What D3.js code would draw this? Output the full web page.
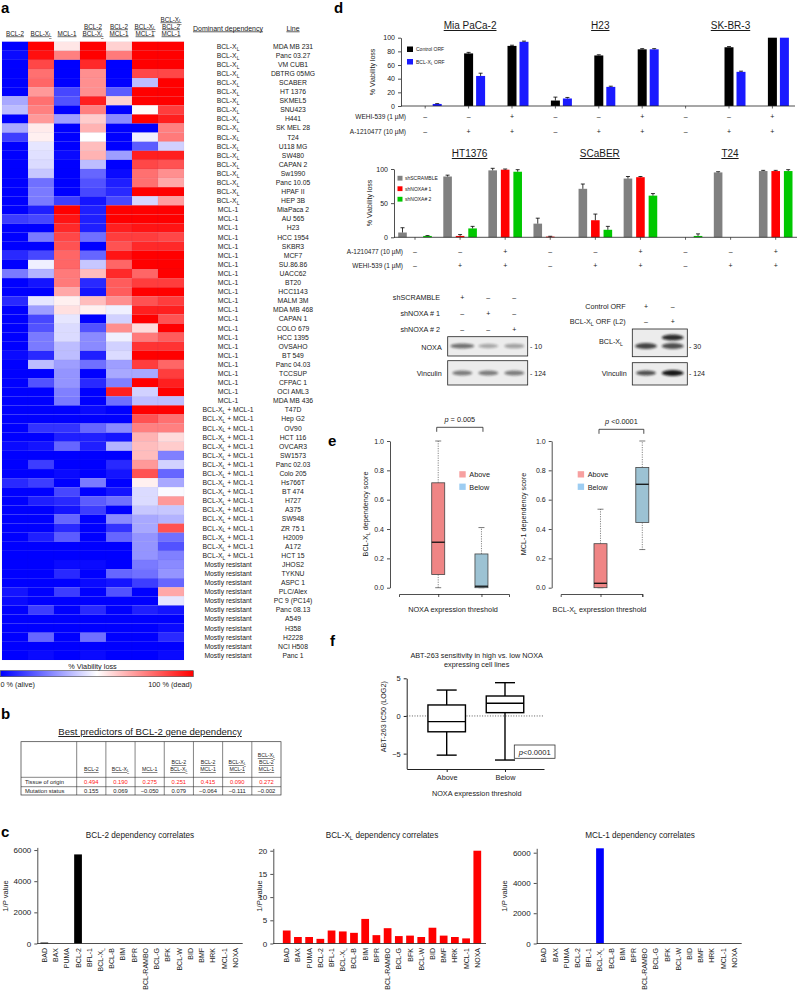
<!DOCTYPE html>
<html><head><meta charset="utf-8">
<script src="https://cdn.jsdelivr.net/npm/d3@7"></script>
<style>
html,body{margin:0;padding:0;background:#fff;}
svg{display:block;font-family:"Liberation Sans",Arial,Helvetica,sans-serif;}
</style></head><body>
<script>
// ================= DATA =================
// Panel a – heatmap
const hmColumns = [["BCL-2"],["BCL-X{L}"],["MCL-1"],["BCL-2","BCL-X{L}"],["BCL-2","MCL-1"],["BCL-X{L}","MCL-1"],["BCL-X{L}","BCL-2","MCL-1"]];
const hmLines = ["MDA MB 231","Panc 03.27","VM CUB1","DBTRG 05MG","SCABER","HT 1376","SKMEL5","SNU423","H441","SK MEL 28","T24","U118 MG","SW480","CAPAN 2","Sw1990","Panc 10.05","HPAF II","HEP 3B",
 "MiaPaca 2","AU 565","H23","HCC 1954","SKBR3","MCF7","SU.86.86","UACC62","BT20","HCC1143","MALM 3M","MDA MB 468","CAPAN 1","COLO 679","HCC 1395","OVSAHO","BT 549","Panc 04.03","TCCSUP","CFPAC 1","OCI AML3","MDA MB 436",
 "T47D","Hep G2","OV90","HCT 116","OVCAR3","SW1573","Panc 02.03","Colo 205","Hs766T","BT 474","H727","A375","SW948","ZR 75 1","H2009","A172","HCT 15",
 "JHOS2","TYKNU","ASPC 1","PLC/Alex","PC 9 (PC14)","Panc 08.13","A549","H358","H2228","NCI H508","Panc 1"];
const hmDominant = [].concat(Array(18).fill("BCL-X{L}"), Array(22).fill("MCL-1"), Array(17).fill("BCL-X{L} + MCL-1"), Array(11).fill("Mostly resistant"));
const hmValues = [
 [0,100,55,100,59,100,100],[2,97,75,100,76,100,100],[0,86,0,92,0,100,100],[0,78,0,72,0,86,86],[0,80,0,72,0,37,100],
 [0,70,14,72,18,100,100],[33,78,16,94,59,100,100],[37,75,0,75,0,51,88],[0,70,31,60,27,100,94],[33,54,0,65,0,0,75],
 [12,53,0,50,0,47,76],[0,45,0,63,0,18,41],[0,44,2,65,31,94,94],[0,43,0,37,0,86,84],[0,39,0,20,2,78,72],
 [0,22,0,16,6,78,67],[0,24,0,14,8,100,100],[0,24,12,4,14,42,69],
 [0,6,100,6,100,100,100],[12,14,96,6,100,100,100],[0,0,92,6,94,96,96],[0,24,86,22,88,88,86],[0,0,84,0,84,92,92],
 [8,14,80,20,96,100,100],[0,47,80,39,80,100,100],[24,35,76,63,92,80,100],[0,4,76,8,82,88,88],[0,0,67,4,82,100,100],
 [8,45,53,63,72,84,88],[0,31,56,53,47,94,94],[0,14,45,0,41,100,84],[0,16,43,16,72,57,100],[0,24,43,27,47,76,82],
 [0,24,37,27,41,90,90],[2,8,37,6,43,100,100],[0,37,31,22,31,88,80],[0,0,29,0,33,33,88],[0,16,29,8,25,100,94],
 [0,0,25,0,94,41,100],[0,0,24,0,22,37,37],
 [0,0,0,2,0,100,100],[0,0,0,0,0,84,78],[0,10,10,20,27,75,75],[0,0,6,6,4,65,57],[2,4,20,6,35,63,60],
 [0,0,0,0,0,63,25],[0,12,0,0,8,70,41],[0,0,2,0,4,84,20],[8,12,0,24,0,53,33],[0,0,14,0,4,43,49],
 [0,6,8,18,22,43,70],[0,0,4,12,0,39,39],[0,0,20,0,27,33,35],[0,0,8,0,10,33,84],[0,6,18,0,20,29,22],
 [0,0,0,0,0,29,16],[0,0,0,0,0,29,25],
 [0,0,2,2,0,24,27],[0,0,8,0,20,22,29],[0,0,0,2,4,12,20],[4,0,12,0,16,0,67],[2,0,0,0,0,0,45],
 [0,12,0,8,0,6,4],[0,0,0,0,0,0,0],[0,0,0,0,0,0,2],[0,20,0,22,0,0,8],[0,0,0,0,0,0,0],[0,2,0,2,0,0,2]
];
// Panel b – table
const tblColumns = [["BCL-2"],["BCL-X{L}"],["MCL-1"],["BCL-2","BCL-X{L}"],["BCL-2","MCL-1"],["BCL-X{L}","MCL-1"],["BCL-X{L}","BCL-2","MCL-1"]];
const tblRows = ["Tissue of origin","Mutation status"];
const tblTissue = ["0.494","0.190","0.275","0.251","0.415","0.090","0.272"];
const tblMutation = ["0.155","0.069","\u22120.050","0.079","\u22120.064","\u22120.111","\u22120.002"];
// Panel c – correlates
const cGenes = ["BAD","BAX","PUMA","BCL-2","BFL-1","BCL-X{L}","BCL-B","BIM","BPR","BCL-RAMBO","BCL-G","BFK","BCL-W","BID","BMF","HRK","MCL-1","NOXA"];
const cBcl2 = [60,0,0,5720,0,0,0,0,0,0,0,0,0,0,0,0,0,0];
const cBclxl = [2.8,1.4,1.4,1.0,2.8,2.6,2.3,5.3,1.8,3.3,1.6,1.7,1.4,3.4,1.7,1.4,1.1,20];
const cMcl1 = [0,0,0,0,0,6290,0,0,0,0,0,0,0,0,0,0,0,0];
// Panel d – viability
const d1Titles = ["Mia PaCa-2","H23","SK-BR-3"];
const d1Control = [0,77,88,8,74,83,0,86,100];
const d1ControlErr = [0,1.5,1,5,1,1,0,1,0];
const d1Bclxl = [3,44,94,11,28,83,0,50,100];
const d1BclxlErr = [0.5,4,1,1.5,1,1,0,1,0];
const d1Wehi = ["\u2013","\u2013","+","\u2013","\u2013","+","\u2013","\u2013","+"];
const d1A121 = ["\u2013","+","+","\u2013","+","+","\u2013","+","+"];
const d2Titles = ["HT1376","SCaBER","T24"];
const d2Scramble = [7,89,98,20,71,86,0,95,97];
const d2ScrambleErr = [7,2,3,8,7,3,0,1,1];
const d2Noxa1 = [0,2,99,1,25,88,0,0,97];
const d2Noxa1Err = [0,2,1,0.5,9,1,0,0,1];
const d2Noxa2 = [2,13,96,0,11,61,2,0,97];
const d2Noxa2Err = [0.5,3,3,0,5,3,3,0,2];
const d2A121 = ["\u2013","\u2013","+","\u2013","\u2013","+","\u2013","\u2013","+"];
const d2Wehi = ["\u2013","+","+","\u2013","+","+","\u2013","+","+"];
// Panel e – boxplots  [min, q1, median, q3, max]
const eGroups = ["Above","Below"];
const eLeftAbove = [0,0.09,0.31,0.715,1.0];
const eLeftBelow = [0,0,0.01,0.23,0.41];
const eRightAbove = [0,0,0.03,0.30,0.535];
const eRightBelow = [0.26,0.445,0.705,0.82,1.0];
// Panel f
const fAbove = [-5.2,-2.1,-0.75,1.46,3.44];
const fBelow = [-5.85,0.44,1.68,2.65,4.42];

// ================= HELPERS =================
const svg = d3.select("body").append("svg").attr("width",799).attr("height",1002);
const INK = "#1a1a1a";
function rich(g, str, x, y, o={}) {
  const size = o.size||7;
  const t = g.append("text").attr("x",x).attr("y",y).attr("font-size",size)
    .attr("text-anchor", o.anchor||"start").attr("fill", o.fill||INK);
  if (o.underline) t.attr("text-decoration","underline");
  if (o.bold) t.attr("font-weight","bold");
  if (o.rotate) t.attr("transform",`rotate(${o.rotate},${x},${y})`);
  const parts = String(str).split(/(\{[^}]*\}|\[[^\]]*\])/);
  let shifted = 0;
  parts.forEach(p=>{
    if (!p) return;
    let ts;
    if (p[0]==="{") {
      ts = t.append("tspan").text(p.slice(1,-1)).attr("font-size",size*0.72).attr("dy",size*0.28);
      shifted = size*0.28; return;
    }
    if (p[0]==="[") ts = t.append("tspan").text(p.slice(1,-1)).attr("font-style","italic");
    else ts = t.append("tspan").text(p);
    if (shifted) { ts.attr("dy",-shifted); shifted = 0; }
  });
  return t;
}
function panelLabel(l,x,y){ svg.append("text").attr("x",x).attr("y",y).attr("font-size",15).attr("font-weight","bold").attr("fill","#000").text(l); }
function styleAxis(g, size){
  g.selectAll("path,line").attr("stroke","#222").attr("stroke-width",0.8);
  g.selectAll("text").attr("font-size",size).attr("fill",INK).attr("font-family",null);
  g.attr("font-family",null);
}

// ================= PANEL a =================
panelLabel("a",1,13);
const gA = svg.append("g");
const hmX = d3.scaleBand().domain(d3.range(hmColumns.length)).range([2,184]);
const hmY = d3.scaleBand().domain(hmLines).range([41.7,660]);
const hmColor = d3.scaleLinear().domain([0,50,100]).range(["#0000ff","#ffffff","#ff0000"]);
hmValues.forEach((row,i)=>{
  gA.selectAll(null).data(row).join("rect")
    .attr("x",(d,j)=>hmX(j)).attr("y",hmY(hmLines[i]))
    .attr("width",hmX.bandwidth()).attr("height",hmY.bandwidth())
    .attr("fill",d=>hmColor(d)).attr("stroke","rgba(40,40,140,0.08)").attr("stroke-width",0.4);
});
hmColumns.forEach((lines,j)=>{
  const cx = hmX(j)+hmX.bandwidth()/2;
  lines.forEach((ln,k)=> rich(gA, ln, cx, 35.5-(lines.length-1-k)*7, {size:6.3,anchor:"middle",underline:true}));
});
rich(gA,"Dominant dependency",228,30.5,{size:7,anchor:"middle",underline:true});
rich(gA,"Line",293,30.5,{size:7,anchor:"middle",underline:true});
hmLines.forEach((ln,i)=>{
  const cy = hmY(ln)+hmY.bandwidth()/2+2.4;
  rich(gA, hmDominant[i], 228, cy, {size:6.8,anchor:"middle"});
  rich(gA, ln, 293, cy, {size:6.8,anchor:"middle"});
});
// colour bar
const defs = svg.append("defs");
const grad = defs.append("linearGradient").attr("id","cbar");
[[0,"#0000ff"],[0.5,"#ffffff"],[1,"#ff0000"]].forEach(s=>grad.append("stop").attr("offset",s[0]).attr("stop-color",s[1]));
rich(gA,"% Viability loss",92.5,668.5,{size:7.3,anchor:"middle"});
gA.append("rect").attr("x",0.5).attr("y",670.7).attr("width",192.8).attr("height",6).attr("fill","url(#cbar)").attr("stroke","#444").attr("stroke-width",0.6);
rich(gA,"0 % (alive)",0.5,686.5,{size:7.3});
rich(gA,"100 % (dead)",192,686.5,{size:7.3,anchor:"end"});

// ================= PANEL b =================
panelLabel("b",1,719);
const gB = svg.append("g");
rich(gB,"Best predictors of BCL-2 gene dependency",150,735,{size:9.6,anchor:"middle",underline:true});
const tblX = d3.scaleBand().domain(d3.range(7)).range([76.7,281]);
const tblTop=741.7, tblHead=777.3, tblR1=786.7, tblBot=795;
gB.append("rect").attr("x",21).attr("y",tblTop).attr("width",260).attr("height",tblBot-tblTop).attr("fill","none").attr("stroke","#333").attr("stroke-width",0.7);
[tblHead,tblR1].forEach(y=>gB.append("line").attr("x1",21).attr("x2",281).attr("y1",y).attr("y2",y).attr("stroke","#333").attr("stroke-width",0.6));
d3.range(7).forEach(j=>gB.append("line").attr("x1",tblX(j)).attr("x2",tblX(j)).attr("y1",tblTop).attr("y2",tblBot).attr("stroke","#333").attr("stroke-width",0.6));
tblColumns.forEach((lines,j)=>{
  const cx = tblX(j)+tblX.bandwidth()/2;
  lines.forEach((ln,k)=>rich(gB,ln,cx,771-(lines.length-1-k)*7,{size:5.2,anchor:"middle",underline:true}));
  rich(gB,tblTissue[j],cx,784.3,{size:5.8,anchor:"middle",fill:"#ff2020"});
  rich(gB,tblMutation[j],cx,793,{size:5.8,anchor:"middle"});
});
rich(gB,tblRows[0],25,784.3,{size:5.8});
rich(gB,tblRows[1],25,793,{size:5.8});

// ================= PANEL c =================
panelLabel("c",1,837);
function corrChart(o){
  const g = svg.append("g");
  const x = d3.scaleBand().domain(cGenes).range([o.b0,o.b1]).paddingInner(0.31).paddingOuter(0.155);
  const y = d3.scaleLinear().domain([0,o.ymax]).range([943.5,o.ytop]);
  g.selectAll("rect").data(o.values).join("rect")
    .attr("x",(d,i)=>x(cGenes[i])).attr("width",x.bandwidth())
    .attr("y",d=>y(d)).attr("height",d=>y(0)-y(d)).attr("fill",o.color);
  const ax = g.append("g").attr("transform",`translate(${o.ax},0)`)
    .call(d3.axisLeft(y).tickValues(o.ticks).tickSize(3).tickSizeOuter(0).tickFormat(d3.format("d")));
  styleAxis(ax,8);
  g.append("line").attr("x1",o.ax).attr("x2",o.xend).attr("y1",943.5).attr("y2",943.5).attr("stroke","#222").attr("stroke-width",0.8);
  cGenes.forEach(gn=>{
    const cx = x(gn)+x.bandwidth()/2+2.5;
    rich(g,gn,cx,948,{size:7,anchor:"end",rotate:-90});
  });
  rich(g,o.title,o.tx,838,{size:8.2,anchor:"middle"});
  rich(g,"1/[P] value",o.lx,896,{size:7.5,anchor:"middle",rotate:-90});
}
corrChart({values:cBcl2,color:"#000",b0:38.7,b1:241,ax:37.3,xend:242.7,ymax:6170,ytop:847.4,ticks:[0,2000,4000,6000],title:"BCL-2 dependency correlates",tx:140,lx:8});
corrChart({values:cBclxl,color:"#ff0000",b0:281.1,b1:482.9,ax:273.3,xend:486,ymax:20.5,ytop:848.4,ticks:[0,5,10,15,20],title:"BCL-X{L} dependency correlates",tx:382,lx:261.5});
corrChart({values:cMcl1,color:"#0000ff",b0:538.4,b1:739.9,ax:536.7,xend:741.7,ymax:6290,ytop:848.3,ticks:[0,2000,4000,6000],title:"MCL-1 dependency correlates",tx:640,lx:507});

// ================= PANEL d =================
panelLabel("d",334,13);
const gD = svg.append("g");
function errBar(g,cx,yTop,yErr){
  if (yErr>=yTop-0.3) return;
  g.append("line").attr("x1",cx).attr("x2",cx).attr("y1",yTop).attr("y2",yErr).attr("stroke","#000").attr("stroke-width",0.8);
  g.append("line").attr("x1",cx-2).attr("x2",cx+2).attr("y1",yErr).attr("y2",yErr).attr("stroke","#000").attr("stroke-width",0.8);
}
// d1
const d1Pts = d3.scalePoint().domain(d3.range(9)).range([425.2,772.4]);
const d1Sub = d3.scaleBand().domain(["c","b"]).range([-4.5,16.5]).paddingInner(0.25);
const d1Y = d3.scaleLinear().domain([0,100]).range([106,37.7]);
[[d1Control,d1ControlErr,"c","#000"],[d1Bclxl,d1BclxlErr,"b","#1a1aff"]].forEach(([vals,errs,k,col])=>{
  vals.forEach((v,i)=>{
    if (v<=0) return;
    const x0 = d1Pts(i)+d1Sub(k);
    gD.append("rect").attr("x",x0).attr("width",d1Sub.bandwidth()).attr("y",d1Y(v)).attr("height",d1Y(0)-d1Y(v)).attr("fill",col);
    errBar(gD,x0+d1Sub.bandwidth()/2,d1Y(v),d1Y(v+errs[i]));
  });
});
const d1Ax = gD.append("g").attr("transform","translate(401,0)").call(d3.axisLeft(d1Y).tickValues([0,20,40,60,80,100]).tickSize(3).tickSizeOuter(0));
styleAxis(d1Ax,7);
gD.append("line").attr("x1",401).attr("x2",795).attr("y1",106).attr("y2",106).attr("stroke","#222").attr("stroke-width",0.8);
d3.range(9).forEach(i=>{
  gD.append("line").attr("x1",d1Pts(i)).attr("x2",d1Pts(i)).attr("y1",106).attr("y2",108.5).attr("stroke","#222").attr("stroke-width",0.7);
  rich(gD,d1Wehi[i],d1Pts(i),119,{size:7,anchor:"middle"});
  rich(gD,d1A121[i],d1Pts(i),134,{size:7,anchor:"middle"});
});
rich(gD,"WEHI-539 (1 \u00b5M)",406,119,{size:6.5,anchor:"end"});
rich(gD,"A-1210477 (10 \u00b5M)",406,134,{size:6.5,anchor:"end"});
d1Titles.forEach((t,k)=>rich(gD,t,d1Pts(1+3*k)+1.5,29,{size:10,anchor:"middle",underline:true}));
rich(gD,"% Viability loss",375,72,{size:7,anchor:"middle",rotate:-90});
gD.append("rect").attr("x",407).attr("y",46.5).attr("width",6).attr("height",5.5).attr("fill","#000");
gD.append("rect").attr("x",407).attr("y",59).attr("width",6).attr("height",5.5).attr("fill","#1a1aff");
rich(gD,"Control ORF",416,51,{size:5});
rich(gD,"BCL-X{L} ORF",416,63.5,{size:5});
// d2
const d2Pts = d3.scalePoint().domain(d3.range(9)).range([415,775.7]);
const d2Sub = d3.scaleBand().domain(["s","n1","n2"]).range([-16.8,16.8]).paddingInner(0.312);
const d2Y = d3.scaleLinear().domain([0,100]).range([237.3,169]);
[[d2Scramble,d2ScrambleErr,"s","#808080"],[d2Noxa1,d2Noxa1Err,"n1","#ff0000"],[d2Noxa2,d2Noxa2Err,"n2","#00c800"]].forEach(([vals,errs,k,col])=>{
  vals.forEach((v,i)=>{
    if (v<=0) return;
    const x0 = d2Pts(i)+d2Sub(k);
    gD.append("rect").attr("x",x0).attr("width",d2Sub.bandwidth()).attr("y",d2Y(v)).attr("height",d2Y(0)-d2Y(v)).attr("fill",col);
    errBar(gD,x0+d2Sub.bandwidth()/2,d2Y(v),d2Y(v+errs[i]));
  });
});
const d2Ax = gD.append("g").attr("transform","translate(394,0)").call(d3.axisLeft(d2Y).tickValues([0,50,100]).tickSize(3).tickSizeOuter(0));
styleAxis(d2Ax,7);
gD.append("line").attr("x1",394).attr("x2",797).attr("y1",237.3).attr("y2",237.3).attr("stroke","#222").attr("stroke-width",0.8);
d3.range(9).forEach(i=>{
  gD.append("line").attr("x1",d2Pts(i)).attr("x2",d2Pts(i)).attr("y1",237.3).attr("y2",239.8).attr("stroke","#222").attr("stroke-width",0.7);
  rich(gD,d2A121[i],d2Pts(i),253.5,{size:7,anchor:"middle"});
  rich(gD,d2Wehi[i],d2Pts(i),268,{size:7,anchor:"middle"});
});
rich(gD,"A-1210477 (10 \u00b5M)",403,253.5,{size:6.5,anchor:"end"});
rich(gD,"WEHI-539 (1 \u00b5M)",403,268,{size:6.5,anchor:"end"});
d2Titles.forEach((t,k)=>rich(gD,t,d1Pts(1+3*k)+1,157,{size:10,anchor:"middle",underline:true}));
rich(gD,"% Viability loss",372,203,{size:7,anchor:"middle",rotate:-90});
[["#808080","shSCRAMBLE"],["#ff0000","shNOXA# 1"],["#00c800","shNOXA# 2"]].forEach(([c,t],k)=>{
  gD.append("rect").attr("x",397.5).attr("y",175.8+k*10.5).attr("width",5).attr("height",4.8).attr("fill",c);
  rich(gD,t,405,180+k*10.5,{size:5});
});
// blots
const blurF = defs.append("filter").attr("id","blur").attr("x","-50%").attr("y","-100%").attr("width","200%").attr("height","300%");
blurF.append("feGaussianBlur").attr("stdDeviation",1.1);
function blot(x,y,w,h){ gD.append("rect").attr("x",x).attr("y",y).attr("width",w).attr("height",h).attr("fill","#ececec").attr("stroke","#222").attr("stroke-width",0.8); }
function band(cx,cy,rx,ry,op){ gD.append("ellipse").attr("cx",cx).attr("cy",cy).attr("rx",rx).attr("ry",ry).attr("fill","#111").attr("opacity",op).attr("filter","url(#blur)"); }
const lanesL = [462.3,488.3,514.3];
[["shSCRAMBLE",["+","\u2013","\u2013"]],["shNOXA # 1",["\u2013","+","\u2013"]],["shNOXA # 2",["\u2013","\u2013","+"]]].forEach(([lab,s],r)=>{
  rich(gD,lab,440,300+r*16,{size:7.2,anchor:"end"});
  s.forEach((v,i)=>rich(gD,v,lanesL[i],300+r*16,{size:7,anchor:"middle"}));
});
blot(447.7,336.7,80,19.3); blot(447.7,360.7,80,24.3);
band(lanesL[0],346,12,2.6,0.55); band(lanesL[1],346,10,2.2,0.3); band(lanesL[2],346,10,2.3,0.33);
[0,1,2].forEach(i=>band(lanesL[i],373,10,2.4,0.5));
rich(gD,"NOXA",441.7,349.5,{size:7.2,anchor:"end"});
rich(gD,"Vinculin",441.7,375.5,{size:7.2,anchor:"end"});
rich(gD,"- 10",530,349,{size:7});
rich(gD,"- 124",530,375.5,{size:7});
const lanesR = [646,672.7];
rich(gD,"Control ORF",625.7,308.5,{size:7.2,anchor:"end"});
rich(gD,"BCL-X{L} ORF (L2)",625.7,324,{size:7.2,anchor:"end"});
[["+","\u2013"],["\u2013","+"]].forEach((s,r)=>s.forEach((v,i)=>rich(gD,v,lanesR[i],308.5+r*15.5,{size:7,anchor:"middle"})));
blot(632.3,329,55,27.7); blot(632.3,362.7,55,22.3);
band(lanesR[0],346,11,3,0.75); band(lanesR[1],346,11,3,0.7); band(lanesR[1],337.5,11,3,0.85);
band(lanesR[0],373,10,2.5,0.7); band(lanesR[1],373,11,3,0.95);
rich(gD,"BCL-X{L}",623,344,{size:7.2,anchor:"end"});
rich(gD,"Vinculin",626.7,375.5,{size:7.2,anchor:"end"});
rich(gD,"- 30",689,349,{size:7});
rich(gD,"- 124",689,375.5,{size:7});

// ================= PANEL e =================
panelLabel("e",328,446);
const gE = svg.append("g");
const eY = d3.scaleLinear().domain([0,1]).range([587.7,441]);
const boxRed = "#ef8585", boxBlue = "#9cc2d3";
function rBox(g,cx,w,s,fill,y){
  const [mn,q1,md,q3,mx] = s;
  [[q3,mx],[q1,mn]].forEach(([a,b])=>{
    if (a===b) return;
    g.append("line").attr("x1",cx).attr("x2",cx).attr("y1",y(a)).attr("y2",y(b)).attr("stroke","#555").attr("stroke-width",0.7).attr("stroke-dasharray","1.2,1.2");
  });
  [mn,mx].forEach(v=>g.append("line").attr("x1",cx-3).attr("x2",cx+3).attr("y1",y(v)).attr("y2",y(v)).attr("stroke","#444").attr("stroke-width",0.7));
  g.append("rect").attr("x",cx-w/2).attr("y",y(q3)).attr("width",w).attr("height",Math.max(0.5,y(q1)-y(q3))).attr("fill",fill).attr("stroke","#444").attr("stroke-width",0.8);
  g.append("line").attr("x1",cx-w/2).attr("x2",cx+w/2).attr("y1",y(md)).attr("y2",y(md)).attr("stroke","#111").attr("stroke-width",1.3);
}
function eChart(o){
  const x = d3.scaleLinear().domain(o.xd).range(o.xr);
  rBox(gE,x(1),13,o.a,boxRed,eY); rBox(gE,x(2),13,o.b,boxBlue,eY);
  const ay = gE.append("g").attr("transform",`translate(${o.ax},0)`).call(d3.axisLeft(eY).tickValues([0,0.2,0.4,0.6,0.8,1]).tickFormat(d3.format(".1f")).tickSize(3).tickSizeOuter(0));
  styleAxis(ay,7);
  const axx = gE.append("g").attr("transform","translate(0,594)").call(d3.axisBottom(x).tickValues([1,2]).tickFormat("").tickSize(3).tickSizeOuter(3));
  styleAxis(axx,7);
  rich(gE,o.xlab,o.xlc,611.5,{size:7.3,anchor:"middle"});
  rich(gE,o.ylab,o.ylx,514,{size:7.2,anchor:"middle",rotate:-90});
  const bx1=x(1)-1.5, bx2=x(2)+1.5;
  gE.append("path").attr("d",`M${bx1},${o.by+4.5}V${o.by}H${bx2}V${o.by+4.5}`).attr("fill","none").attr("stroke","#222").attr("stroke-width",0.8);
  rich(gE,o.ptext,(bx1+bx2)/2,o.by-5,{size:7.3,anchor:"middle"});
  [[boxRed,"Above"],[boxBlue,"Below"]].forEach(([c,t],k)=>{
    gE.append("rect").attr("x",o.lgx).attr("y",471.2+k*12.4).attr("width",6.4).attr("height",6.3).attr("fill",k?"#9dcdf2":"#f7a0a0");
    rich(gE,t,o.lgx+10,477.2+k*12.4,{size:7.3});
  });
}
eChart({xd:[0.093,2.637],xr:[399,509],a:eLeftAbove,b:eLeftBelow,ax:390,xlab:"NOXA expression threshold",xlc:453,ylab:"BCL-X{L} dependency score",ylx:368,by:427.3,ptext:"[p] = 0.005",lgx:459.3});
eChart({xd:[0.048,2],xr:[560.7,642.3],a:eRightAbove,b:eRightBelow,ax:551.7,xlab:"BCL-X{L} expression threshold",xlc:599.5,ylab:"MCL-1 dependency score",ylx:525.5,by:429.3,ptext:"[p] <0.0001",lgx:577.7});

// ================= PANEL f =================
panelLabel("f",330,646);
const gF = svg.append("g");
const fY = d3.scaleLinear().domain([-7,5]).range([768.7,678.3]);
const fX = d3.scaleLinear().domain([0.314,2.669]).range([406.7,544]);
rich(gF,"ABT-263 sensitivity in high vs. low NOXA",476.7,657.8,{size:7.3,anchor:"middle"});
rich(gF,"expressing cell lines",476.7,666.8,{size:7.3,anchor:"middle"});
gF.append("line").attr("x1",406.7).attr("x2",543.3).attr("y1",fY(0)).attr("y2",fY(0)).attr("stroke","#333").attr("stroke-width",0.8).attr("stroke-dasharray","1,1.6");
[[1,fAbove],[2,fBelow]].forEach(([k,s])=>{
  const cx=fX(k), w=37.5, [mn,q1,md,q3,mx]=s;
  gF.append("line").attr("x1",cx).attr("x2",cx).attr("y1",fY(mx)).attr("y2",fY(q3)).attr("stroke","#000").attr("stroke-width",1.4);
  gF.append("line").attr("x1",cx).attr("x2",cx).attr("y1",fY(q1)).attr("y2",fY(mn)).attr("stroke","#000").attr("stroke-width",1.4);
  [mn,mx].forEach(v=>gF.append("line").attr("x1",cx-10).attr("x2",cx+10).attr("y1",fY(v)).attr("y2",fY(v)).attr("stroke","#000").attr("stroke-width",1.4));
  gF.append("rect").attr("x",cx-w/2).attr("y",fY(q3)).attr("width",w).attr("height",fY(q1)-fY(q3)).attr("fill","#fff").attr("stroke","#000").attr("stroke-width",1.4);
  gF.append("line").attr("x1",cx-w/2).attr("x2",cx+w/2).attr("y1",fY(md)).attr("y2",fY(md)).attr("stroke","#000").attr("stroke-width",1.4);
});
const fAy = gF.append("g").attr("transform","translate(406.7,0)").call(d3.axisLeft(fY).tickValues([-5,0,5]).tickSize(3).tickSizeOuter(0).tickFormat(d=>d<0?"\u2212"+Math.abs(d):d));
styleAxis(fAy,7.5); fAy.selectAll("path,line").attr("stroke-width",1);
const fAx = gF.append("g").attr("transform","translate(0,769)").call(d3.axisBottom(fX).tickValues([1,2]).tickSize(3).tickSizeOuter(0).tickFormat((d,i)=>eGroups[i]));
styleAxis(fAx,7.3); fAx.selectAll("path,line").attr("stroke-width",1);
rich(gF,"NOXA expression threshold",476.7,795.5,{size:7.3,anchor:"middle"});
rich(gF,"ABT-263 IC50 (LOG2)",386,716.7,{size:7.2,anchor:"middle",rotate:-90});
gF.append("rect").attr("x",514.3).attr("y",745).attr("width",40.7).attr("height",13.3).attr("fill","#fff").attr("stroke","#333").attr("stroke-width",0.8);
rich(gF,"[p]<0.0001",534.7,754.5,{size:7.6,anchor:"middle"});
</script>
</body></html>
